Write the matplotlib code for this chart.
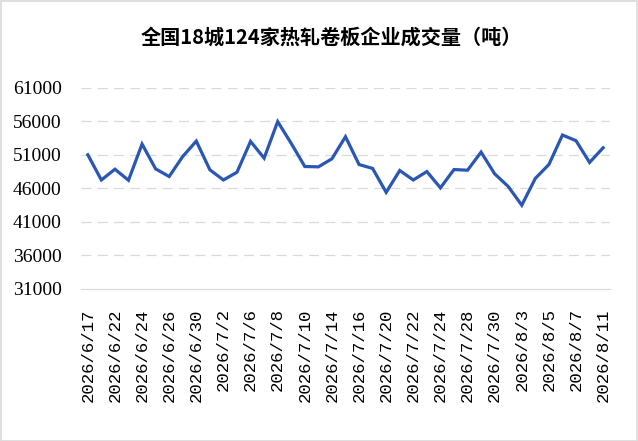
import matplotlib
matplotlib.use("Agg")
import matplotlib.pyplot as plt

plt.rcParams['font.family'] = ['Noto Sans CJK SC', 'DejaVu Sans']

dates = ['2026/6/17', '2026/6/18', '2026/6/22', '2026/6/23', '2026/6/24', '2026/6/25',
         '2026/6/26', '2026/6/29', '2026/6/30', '2026/7/1', '2026/7/2', '2026/7/3',
         '2026/7/6', '2026/7/7', '2026/7/8', '2026/7/9', '2026/7/10', '2026/7/13',
         '2026/7/14', '2026/7/15', '2026/7/16', '2026/7/17', '2026/7/20', '2026/7/21',
         '2026/7/22', '2026/7/23', '2026/7/24', '2026/7/27', '2026/7/28', '2026/7/29',
         '2026/7/30', '2026/7/31', '2026/8/3', '2026/8/4', '2026/8/5', '2026/8/6',
         '2026/8/7', '2026/8/10', '2026/8/11']
volume = [51000, 47240, 48850, 47200, 52600, 48900, 47760, 50750, 53040, 48760,
          47240, 48400, 53000, 50500, 55950, 52700, 49250, 49200, 50400, 53700,
          49550, 48960, 45400, 48660, 47240, 48500, 46070, 48800, 48700, 51400,
          48160, 46270, 43480, 47480, 49550, 53950, 53100, 49860, 52050]
yticks = [31000, 36000, 41000, 46000, 51000, 56000, 61000]

fig = plt.figure(figsize=(6.38, 4.41), dpi=100)
ax = fig.add_axes([0.127, 0.345, 0.829, 0.456])

x = list(range(len(dates)))
ax.plot(x, volume, color='#2A56B4', lw=2.3, solid_joinstyle='miter', zorder=3)

ax.set_ylim(31000, 61000)
ax.set_xlim(-0.5, len(dates) - 0.5)
ax.set_yticks(yticks)
ax.set_yticklabels([str(v) for v in yticks], fontfamily='Liberation Serif', fontsize=14)
ax.set_xticks(x[::2])
ax.set_xticklabels(dates[::2], rotation=90, fontfamily='Liberation Mono', fontsize=12.5)
ax.tick_params(axis='both', length=0)
ax.tick_params(axis='x', pad=14)
ax.tick_params(axis='y', pad=14)

for v in yticks[1:]:
    ax.axhline(v, color='#d9d9d9', lw=0.9, ls=(0, (8, 5)), zorder=1)
for side in ['top', 'right', 'left']:
    ax.spines[side].set_visible(False)
ax.spines['bottom'].set_color('#d9d9d9')
ax.spines['bottom'].set_linewidth(0.9)

fig.text(0.52, 0.916, '全国18城124家热轧卷板企业成交量（吨）', ha='center', va='center',
         fontsize=14.5, fontweight='bold')

fig.patches.append(plt.Rectangle((0.001, 0.001), 0.997, 0.997, transform=fig.transFigure,
                                 fill=False, edgecolor='#d9d9d9', lw=1.2))

fig.savefig('out.png', dpi=100)
